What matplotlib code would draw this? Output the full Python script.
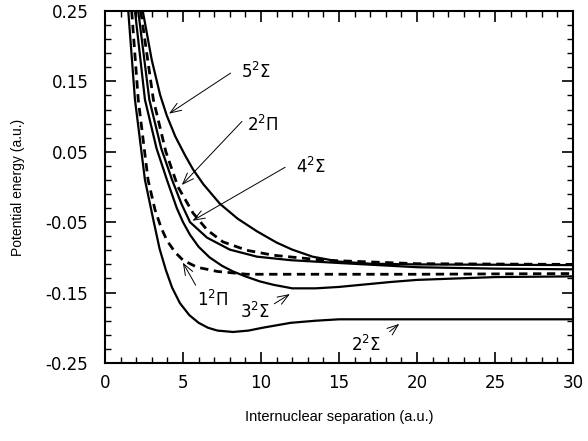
import numpy as np
import matplotlib.pyplot as plt
from matplotlib.ticker import MultipleLocator

# --- data (R in a.u., energy in a.u.) ---
r_2sig = [1.49, 1.92, 2.56, 3.1, 3.5, 3.9, 4.3, 4.8, 5.4, 6.0, 6.6, 7.2, 8.2, 9.2, 10.1, 11.9, 13.5, 15.0, 20.0, 25.0, 30.0]
e_2sig = [0.25, 0.124, 0.01, -0.047, -0.088, -0.118, -0.143, -0.165, -0.182, -0.193, -0.200, -0.204, -0.206, -0.204, -0.200, -0.193, -0.190, -0.188, -0.188, -0.188, -0.188]

r_1pi = [1.71, 2.13, 2.76, 3.2, 3.6, 3.97, 4.5, 5.0, 5.9, 7.2, 9.1, 12.0, 20.0, 30.0]
e_1pi = [0.25, 0.124, 0.01, -0.032, -0.058, -0.076, -0.093, -0.104, -0.114, -0.120, -0.124, -0.124, -0.124, -0.123]

r_3sig = [1.92, 2.56, 3.3, 3.97, 4.6, 5.0, 5.45, 6.0, 6.7, 7.5, 8.2, 9.0, 9.9, 10.8, 12.0, 13.5, 15.0, 18.3, 20.0, 25.0, 30.0]
e_3sig = [0.25, 0.124, 0.055, 0.01, -0.030, -0.050, -0.068, -0.085, -0.100, -0.112, -0.120, -0.127, -0.134, -0.139, -0.144, -0.144, -0.142, -0.135, -0.132, -0.128, -0.127]

r_4sig = [2.13, 2.84, 3.6, 4.3, 4.9, 5.45, 6.54, 8.0, 9.74, 11.9, 15.0, 20.0, 25.0, 30.0]
e_4sig = [0.25, 0.124, 0.055, 0.01, -0.024, -0.05, -0.072, -0.089, -0.099, -0.104, -0.108, -0.114, -0.116, -0.117]

r_2pi = [2.29, 3.1, 3.9, 4.68, 5.64, 6.54, 7.56, 9.1, 10.8, 14.0, 20.0, 30.0]
e_2pi = [0.25, 0.124, 0.05, 0.0, -0.037, -0.061, -0.078, -0.090, -0.097, -0.104, -0.109, -0.110]

r_5sig = [2.42, 3.0, 3.53, 3.95, 4.5, 5.13, 5.64, 6.3, 7.37, 8.5, 9.74, 11.0, 12.0, 13.3, 15.0, 17.0, 20.0, 30.0]
e_5sig = [0.25, 0.18, 0.131, 0.102, 0.072, 0.045, 0.025, 0.004, -0.024, -0.045, -0.063, -0.079, -0.089, -0.099, -0.106, -0.109, -0.110, -0.111]

# labels: (text, text position, arrow tip, arrow tail)
labels = ["$5^2\\Sigma$", "$2^2\\Pi$", "$4^2\\Sigma$", "$1^2\\Pi$", "$3^2\\Sigma$", "$2^2\\Sigma$"]
label_xy = [(9.7, 0.163), (10.1, 0.088), (13.2, 0.028), (6.9, -0.160), (9.6, -0.178), (16.7, -0.224)]
tip_xy = [(3.95, 0.102), (4.8, 0.0), (5.45, -0.05), (4.9, -0.104), (12.0, -0.150), (19.0, -0.192)]
tail_xy = [(8.2, 0.164), (8.9, 0.096), (11.7, 0.030), (5.9, -0.143), (10.7, -0.168), (18.1, -0.208)]

fig = plt.figure(figsize=(5.88, 4.41), dpi=100)
ax = fig.add_axes([0.1786, 0.177, 0.796, 0.798])

ax.plot(r_2sig, e_2sig, 'k-', lw=1.6)
ax.plot(r_1pi, e_1pi, 'k--', lw=2.0, dashes=(3, 2))
ax.plot(r_3sig, e_3sig, 'k-', lw=1.6)
ax.plot(r_4sig, e_4sig, 'k-', lw=1.6)
ax.plot(r_2pi, e_2pi, 'k--', lw=2.0, dashes=(3, 2))
ax.plot(r_5sig, e_5sig, 'k-', lw=1.6)

for txt, xy, tip, tail in zip(labels, label_xy, tip_xy, tail_xy):
    ax.text(xy[0], xy[1], txt, fontsize=12, ha='center', va='center')
    ax.annotate('', xy=tip, xytext=tail,
                arrowprops=dict(arrowstyle='->,head_length=0.8,head_width=0.3', lw=0.7, color='k'))

ax.set_xlim(0, 30)
ax.set_ylim(-0.25, 0.25)
ax.xaxis.set_major_locator(MultipleLocator(5))
ax.xaxis.set_minor_locator(MultipleLocator(1))
ax.yaxis.set_major_locator(MultipleLocator(0.1, offset=0.05))
ax.yaxis.set_minor_locator(MultipleLocator(0.02, offset=0.01))
ax.tick_params(which='both', direction='in', top=True, right=True, labelsize=12)
ax.tick_params(which='major', length=8, width=1.2)
ax.tick_params(which='minor', length=4, width=1.0)
ax.tick_params(axis='y', which='major', pad=12)
ax.tick_params(axis='x', which='major', pad=8)
ax.yaxis.set_major_formatter(plt.FuncFormatter(lambda v, p: f"{v:.2f}"))
for s in ax.spines.values():
    s.set_linewidth(1.5)

ax.set_xlabel("Internuclear separation (a.u.)", fontsize=10.5, family='Liberation Sans')
ax.set_ylabel("Potential energy (a.u.)", fontsize=10, family='Liberation Sans')
ax.xaxis.set_label_coords(0.5, -0.135)
ax.yaxis.set_label_coords(-0.172, 0.5)

fig.savefig("out.png", dpi=100)
